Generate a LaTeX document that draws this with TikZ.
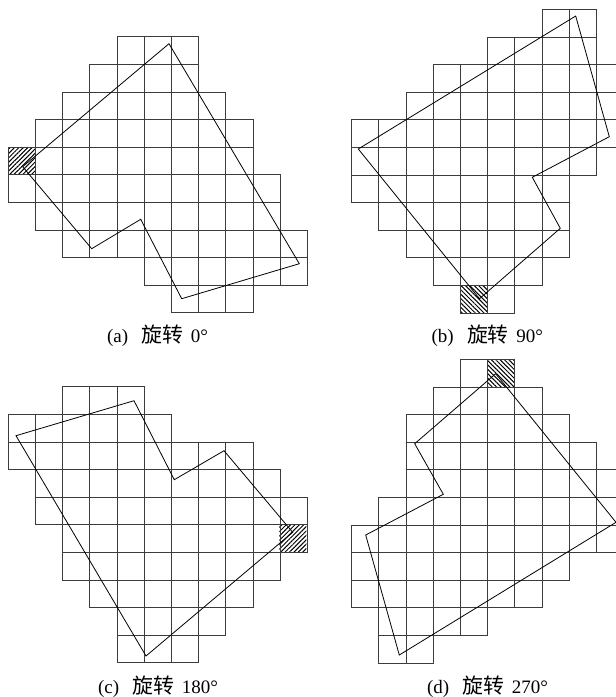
\documentclass[tikz,border=0pt]{standalone}
\usepackage{fontspec}
\setmainfont{Liberation Serif}
\newfontfamily\cjkfont[Scale=1.1]{Noto Sans CJK SC}
\usepackage{xcolor}
\usetikzlibrary{patterns.meta}
\definecolor{GridGray}{HTML}{3C3C3C}
\newcommand{\cellgrid}[3]{%
  \foreach \r/\first/\last in {#3}
    \foreach \c in {\first,...,\last}
      \draw[gridcell] ({#1+\c*27.18},{#2+\r*27.6}) rectangle ++(27.18,27.6);
}
\newcommand{\rotlabel}[2]{(#1)\hspace{0.7em}{\cjkfont 旋转}\hspace{0.4em}#2°}
\begin{document}
\begin{tikzpicture}[
  x=1pt,y=-1pt,
  gridcell/.style={draw=GridGray,line width=0.8pt},
  outline/.style={draw=black,line width=0.8pt,line join=miter},
  hatchne/.style={pattern={Lines[angle=45,distance=3.1pt,line width=1pt]}},
  hatchnw/.style={pattern={Lines[angle=-45,distance=3.1pt,line width=1pt]}},
  caption/.style={font=\fontsize{19}{22}\selectfont,inner sep=0pt,anchor=center}
]
  \clip (0,0) rectangle (616,697);

  % (a)
  \fill[hatchne] (8.3,147.1) rectangle ++(27.18,27.6);
  \cellgrid{8.3}{36.7}{0/4/6,1/3/6,2/2/7,3/1/8,4/0/8,5/0/9,6/1/9,7/2/10,8/5/10,9/6/8}
  \draw[outline] (169,43.7) -- (299.3,263.7) -- (181.7,298.7) -- (140.7,219.3)
    -- (91.7,248.7) -- (22.7,166.7) -- cycle;
  \node[caption] (capa) at (157.5,335.5) {\rotlabel{a}{0}};

  % (b)
  \fill[hatchnw] (460.4,285.2) rectangle ++(27.18,27.6);
  \cellgrid{351.7}{9.3}{0/7/8,1/5/8,2/3/9,3/2/9,4/0/9,5/0/8,6/0/7,7/1/7,8/2/7,9/3/6,10/4/5}
  \draw[outline] (575.7,16) -- (609.3,136.7) -- (532.3,177.3) -- (560.3,228.3)
    -- (479.5,298.7) -- (358.3,149) -- cycle;
  \node[caption] (capb) at (487.3,335.5) {\rotlabel{b}{90}};

  % (c)
  \fill[hatchne] (279.3,524.7) rectangle ++(27.18,27.6);
  \cellgrid{8.3}{386.7}{0/2/4,1/0/5,2/0/8,3/1/9,4/1/10,5/2/10,6/2/9,7/3/8,8/4/7,9/4/6}
  \draw[outline] (134,400.7) -- (174.3,479.7) -- (224,450.7) -- (292.7,532.3)
    -- (146,656) -- (16,435.7) -- cycle;
  \node[caption] (capc) at (158,686.7) {\rotlabel{c}{180}};

  % (d)
  \fill[hatchnw] (487.6,359.3) rectangle ++(27.18,27.6);
  \cellgrid{351.7}{359.3}{0/4/5,1/3/6,2/2/7,3/2/8,4/2/9,5/1/9,6/0/9,7/0/7,8/0/6,9/1/4,10/1/2}
  \draw[outline] (495.7,373.7) -- (616,522.3) -- (399.3,655) -- (365.7,535)
    -- (443.3,494.3) -- (414.7,443.7) -- cycle;
  \node[caption] (capd) at (487.5,686.7) {\rotlabel{d}{270}};
\end{tikzpicture}
\end{document}
